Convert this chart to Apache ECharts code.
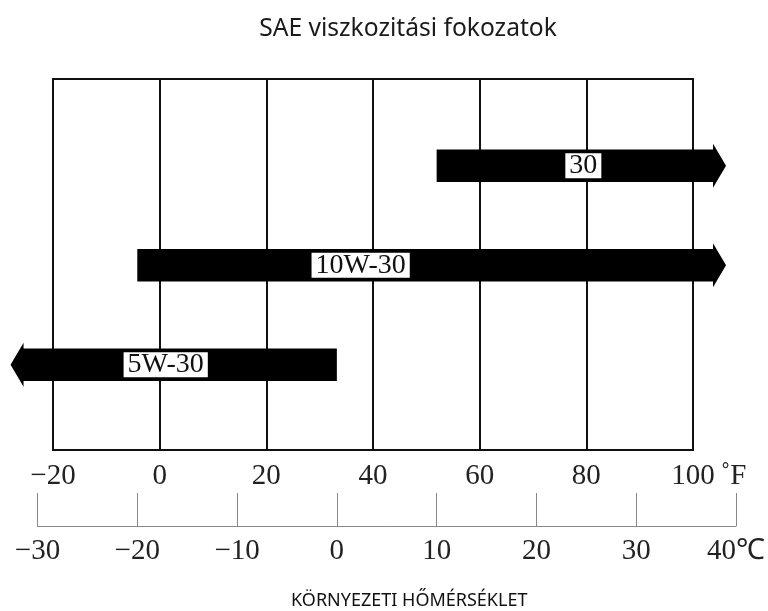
<!DOCTYPE html>
<html>
<head>
<meta charset="utf-8">
<script src="https://cdn.jsdelivr.net/npm/echarts@6/dist/echarts.min.js"></script>
<style>
html,body{margin:0;padding:0;background:#fff;}
#chart{width:768px;height:611px;}
</style>
</head>
<body>
<div id="chart"></div>
<script>
// ---- data ----
const titleText = 'SAE viszkozitási fokozatok';
const axisTitle = 'KÖRNYEZETI HŐMÉRSÉKLET';
const grades = ['30', '10W-30', '5W-30'];
const fromC = [10, -20, -32.7];      // °C where each band starts (arrow tip for open low end)
const toC = [39, 39, 0];             // °C where each band ends (arrow tip for open high end)
const arrowEnd = ['end', 'end', 'start'];
const fTicks = [-20, 0, 20, 40, 60, 80, 100];
const cTicks = [-30, -20, -10, 0, 10, 20, 30, 40];

// ---- style (not data) ----
const labelShift = {'30': 2, '10W-30': -71, '5W-30': -8};
const numFont = '"Liberation Serif", "Times New Roman", serif';

const fmtNum = v => (v < 0 ? '\u2212' + Math.abs(v) : String(v));

const chart = echarts.init(document.getElementById('chart'));
const seriesData = grades.map((g, i) => [i, fromC[i], toC[i]]);

chart.setOption({
  backgroundColor: '#fff',
  animation: false,
  title: {
    text: titleText,
    left: 403,
    textAlign: 'center',
    top: 11,
    textStyle: {fontFamily: '"Noto Sans"', fontSize: 24.6, fontWeight: 'normal', color: '#1a1a1a'}
  },
  grid: [
    {left: 53, width: 640, top: 79, height: 371, show: true, borderColor: '#111', borderWidth: 2, backgroundColor: 'transparent'},
    {left: 37.5, width: 700, top: 116, height: 298.5, show: false}
  ],
  xAxis: [
    {
      gridIndex: 0, type: 'value', min: fTicks[0], max: fTicks[fTicks.length - 1], interval: 20,
      position: 'bottom',
      axisLine: {show: true, lineStyle: {color: '#111', width: 2}},
      axisTick: {show: false},
      splitLine: {show: true, lineStyle: {color: '#111', width: 2}},
      axisLabel: {
        margin: 12, fontFamily: numFont, fontSize: 29, color: '#222',
        formatter: v => fmtNum(v)
      },
      name: '\u02daF', nameLocation: 'end', nameGap: 19,
      nameTextStyle: {fontFamily: numFont, fontSize: 29, color: '#222', align: 'left', verticalAlign: 'top', padding: [12, 0, 0, 0]}
    },
    {
      gridIndex: 1, type: 'value', min: cTicks[0], max: cTicks[cTicks.length - 1], interval: 10,
      position: 'bottom', offset: 111.5,
      axisLine: {show: true, lineStyle: {color: '#888', width: 1}},
      axisTick: {show: true, inside: true, length: 33, lineStyle: {color: '#888', width: 1}},
      splitLine: {show: false},
      axisLabel: {
        margin: 11, fontFamily: numFont, fontSize: 29, color: '#222',
        formatter: v => (v === cTicks[cTicks.length - 1] ? v + '\u2103' : fmtNum(v))
      },
      name: axisTitle, nameLocation: 'middle', nameGap: 66,
      nameTextStyle: {fontFamily: '"Noto Sans"', fontSize: 18, color: '#111', padding: [0, 0, 0, 45]}
    }
  ],
  yAxis: [
    {gridIndex: 0, type: 'value', min: 0, max: 1, show: false, splitLine: {show: false}},
    {gridIndex: 1, type: 'category', data: grades, inverse: true, show: false}
  ],
  series: [{
    type: 'custom',
    xAxisIndex: 1, yAxisIndex: 1,
    clip: false,
    encode: {x: [1, 2], y: 0},
    data: seriesData,
    renderItem: function (params, api) {
      const i = api.value(0);
      const a = api.coord([api.value(1), i]);
      const b = api.coord([api.value(2), i]);
      const cy = a[1];
      const x1 = a[0], x2 = b[0];
      const h = 16.3, hh = 22, hl = 13;
      let pts;
      if (arrowEnd[i] === 'end') {
        pts = [[x1, cy - h], [x2 - hl, cy - h], [x2 - hl, cy - hh], [x2, cy], [x2 - hl, cy + hh], [x2 - hl, cy + h], [x1, cy + h]];
      } else {
        pts = [[x2, cy - h], [x1 + hl, cy - h], [x1 + hl, cy - hh], [x1, cy], [x1 + hl, cy + hh], [x1 + hl, cy + h], [x2, cy + h]];
      }
      const g = grades[i];
      return {
        type: 'group',
        children: [
          {type: 'polygon', shape: {points: pts}, style: {fill: '#000'}},
          {
            type: 'text',
            x: (x1 + x2) / 2 + (labelShift[g] || 0), y: cy,
            style: {
              text: g, fill: '#111', font: '28px ' + numFont,
              align: 'center', verticalAlign: 'middle',
              backgroundColor: '#fff', padding: [0, 4, 0, 4], lineHeight: 25
            }
          }
        ]
      };
    }
  }]
});
</script>
</body>
</html>
